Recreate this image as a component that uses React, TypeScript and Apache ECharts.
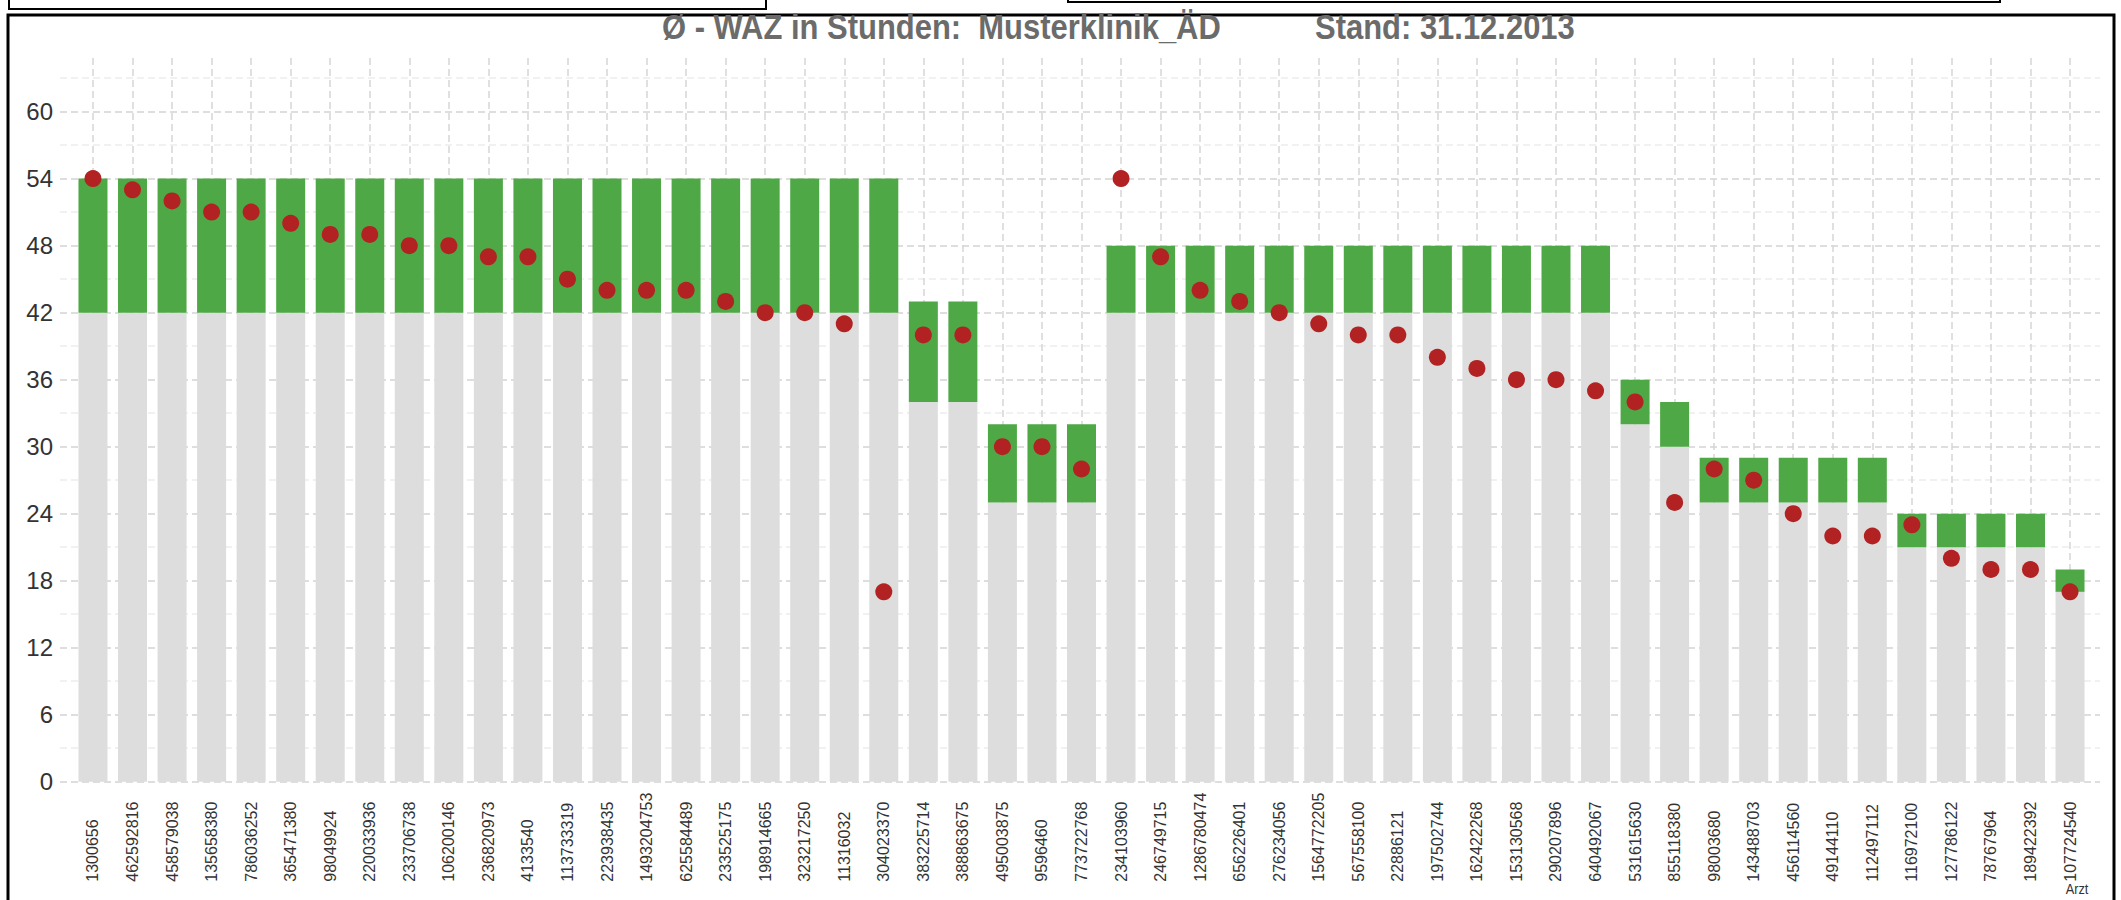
import React, { useEffect, useRef } from "react";
import * as echarts from "echarts";

const categories: string[] = [
  "1300656", "462592816", "458579038", "135658380", "786036252", "365471380", "98049924",
  "220033936", "233706738", "106200146", "236820973", "4133540", "113733319", "223938435",
  "1493204753", "625584489", "233525175", "198914665", "323217250", "11316032", "304023370",
  "383225714", "388863675", "495003875", "9596460", "773722768", "234103960", "246749715",
  "1286780474", "656226401", "276234056", "1564772205", "567558100", "22886121", "197502744",
  "162422268", "153130568", "290207896", "640492067", "531615630", "855118380", "98003680",
  "143488703", "456114560", "49144110", "112497112", "116972100", "127786122", "78767964",
  "189422392", "107724540",
];

// lower bound of target range (grey bar)
const targetMin: number[] = [
  42, 42, 42, 42, 42, 42, 42, 42, 42, 42, 42, 42, 42, 42, 42, 42, 42, 42, 42, 42, 42,
  34, 34, 25, 25, 25,
  42, 42, 42, 42, 42, 42, 42, 42, 42, 42, 42, 42, 42,
  32, 30, 25, 25, 25, 25, 25, 21, 21, 21, 21, 17,
];

// upper bound of target range (top of green bar)
const targetMax: number[] = [
  54, 54, 54, 54, 54, 54, 54, 54, 54, 54, 54, 54, 54, 54, 54, 54, 54, 54, 54, 54, 54,
  43, 43, 32, 32, 32,
  48, 48, 48, 48, 48, 48, 48, 48, 48, 48, 48, 48, 48,
  36, 34, 29, 29, 29, 29, 29, 24, 24, 24, 24, 19,
];

// actual average weekly working hours (red dots)
const actual: number[] = [
  54, 53, 52, 51, 51, 50, 49, 49, 48, 48, 47, 47, 45, 44, 44, 44, 43, 42, 42, 41, 17,
  40, 40, 30, 30, 28,
  54, 47, 44, 43, 42, 41, 40, 40, 38, 37, 36, 36, 35,
  34, 25, 28, 27, 24, 22, 22, 23, 20, 19, 19, 17,
];

const titleLeft = "Ø - WAZ in Stunden:  Musterklinik_ÄD";
const titleRight = "Stand: 31.12.2013";
const axisName = "Arzt";

const Y_MAX = 64.8;
const FONT = "'Liberation Sans', Arial, Helvetica, sans-serif";

export default function App() {
  const ref = useRef<HTMLDivElement>(null);

  useEffect(() => {
    if (!ref.current) return;
    const chart = echarts.init(ref.current, null, { renderer: "svg" });
    const greenPart = targetMax.map((v, i) => v - targetMin[i]);

    const option: any = {
      animation: false,
      backgroundColor: "#ffffff",
      textStyle: { fontFamily: FONT },
      grid: [
        { left: 60, right: 21, top: 58, bottom: 118.3, containLabel: false },
        { left: 73.2, right: 31.2, top: 58, bottom: 118.3, containLabel: false },
      ],
      xAxis: [
        { type: "category", gridIndex: 0, data: categories, show: false },
        {
          type: "category",
          gridIndex: 1,
          data: categories,
          axisLine: { show: false },
          axisTick: { show: false },
          splitLine: {
            show: true,
            alignWithLabel: true,
            interval: 0,
            lineStyle: { color: "#d6d6d6", type: [7, 4], width: 1.5 },
          },
          axisLabel: {
            interval: 0,
            rotate: 90,
            align: "left",
            verticalAlign: "middle",
            margin: 100,
            fontSize: 16,
            color: "#333333",
            fontFamily: FONT,
          },
        },
      ],
      yAxis: [
        {
          type: "value",
          gridIndex: 0,
          min: 0,
          max: Y_MAX,
          interval: 3,
          axisLine: { show: false },
          axisTick: { show: false },
          axisLabel: {
            showMaxLabel: false,
            margin: 7,
            fontSize: 24,
            color: "#333333",
            fontFamily: FONT,
            formatter: (v: number) => (Math.round(v) % 6 === 0 ? String(Math.round(v)) : ""),
          },
          splitLine: {
            show: true,
            showMaxLine: false,
            lineStyle: { color: ["#d4d4d4", "#ededed"], type: [7, 4], width: 1.5 },
          },
        },
        {
          type: "value",
          gridIndex: 1,
          min: 0,
          max: Y_MAX,
          interval: 3,
          show: false,
          splitLine: { show: false },
        },
      ],
      series: [
        {
          name: "Soll min",
          type: "bar",
          xAxisIndex: 1,
          yAxisIndex: 1,
          stack: "soll",
          barWidth: 29,
          itemStyle: { color: "#dddddd" },
          data: targetMin,
        },
        {
          name: "Soll Spanne",
          type: "bar",
          xAxisIndex: 1,
          yAxisIndex: 1,
          stack: "soll",
          barWidth: 29,
          itemStyle: { color: "#4ea845" },
          data: greenPart,
        },
        {
          name: "Ist",
          type: "scatter",
          xAxisIndex: 1,
          yAxisIndex: 1,
          symbol: "circle",
          symbolSize: 17,
          z: 5,
          itemStyle: { color: "#b22222", opacity: 1 },
          data: actual,
        },
      ],
      graphic: [
        {
          type: "rect",
          shape: { x: 9, y: -6, width: 757, height: 15 },
          style: { fill: "none", stroke: "#000000", lineWidth: 2 },
          silent: true,
        },
        {
          type: "rect",
          shape: { x: 1068, y: -6, width: 932, height: 8 },
          style: { fill: "none", stroke: "#000000", lineWidth: 2 },
          silent: true,
        },
        {
          type: "rect",
          shape: { x: 8, y: 15, width: 2106, height: 900 },
          style: { fill: "none", stroke: "#000000", lineWidth: 3 },
          silent: true,
        },
        {
          type: "text",
          x: 662,
          y: 27,
          scaleX: 0.86,
          style: {
            text: titleLeft,
            font: `bold 36px ${FONT}`,
            fill: "#6b6b6b",
            verticalAlign: "middle",
          },
        },
        {
          type: "text",
          x: 1315,
          y: 27,
          scaleX: 0.86,
          style: {
            text: titleRight,
            font: `bold 36px ${FONT}`,
            fill: "#6b6b6b",
            verticalAlign: "middle",
          },
        },
        {
          type: "text",
          x: 2077,
          y: 889,
          scaleX: 0.85,
          style: {
            text: axisName,
            font: `15px ${FONT}`,
            fill: "#333333",
            align: "center",
            verticalAlign: "middle",
          },
        },
      ],
    };

    chart.setOption(option);
    return () => {
      chart.dispose();
    };
  }, []);

  return (
    <div
      ref={ref}
      style={{ position: "fixed", left: 0, top: 0, width: 2121, height: 900, background: "#fff" }}
    />
  );
}
